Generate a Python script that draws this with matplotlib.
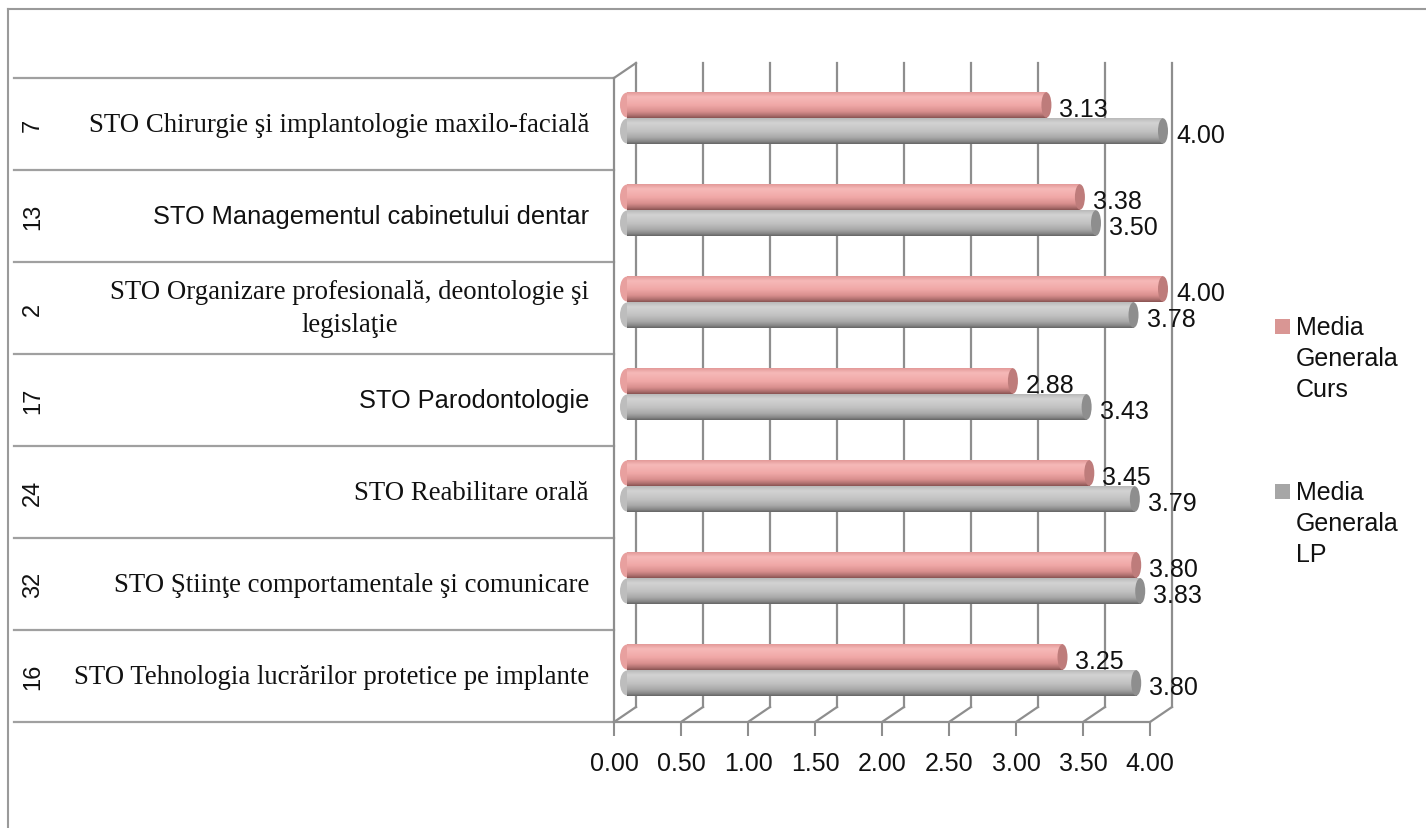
import numpy as np
import matplotlib
matplotlib.use("Agg")
import matplotlib.pyplot as plt
from matplotlib.patches import Ellipse, Rectangle
from matplotlib.colors import to_rgb

# ---------------- data ----------------
codes = ['7', '13', '2', '17', '24', '32', '16']
categories = ['STO Chirurgie şi implantologie maxilo-facială',
              'STO Managementul cabinetului dentar',
              'STO Organizare profesională, deontologie şi\nlegislaţie',
              'STO Parodontologie',
              'STO Reabilitare orală',
              'STO Ştiinţe comportamentale şi comunicare',
              'STO Tehnologia lucrărilor protetice pe implante']
sans_labels = [False, True, False, True, False, False, False]
media_curs = [3.13, 3.38, 4.00, 2.88, 3.45, 3.80, 3.25]
media_lp = [4.00, 3.50, 3.78, 3.43, 3.79, 3.83, 3.80]
series_names = ['Media\nGenerala\nCurs', 'Media\nGenerala\nLP']
xticks = [0.0, 0.5, 1.0, 1.5, 2.0, 2.5, 3.0, 3.5, 4.0]

W, H = 1426, 829
fig = plt.figure(figsize=(W / 100, H / 100), dpi=100)
fig.patch.set_facecolor('white')

SANS = ['Liberation Sans', 'DejaVu Sans']
SERIF = ['Liberation Serif', 'DejaVu Serif']

def fig_rect(x0, y0, x1, y1):
    return [x0 / W, 1 - y1 / H, (x1 - x0) / W, (y1 - y0) / H]

n = len(categories)
XMAX = 4.0
PXU = 134.0                 # pixels per unit
FX0, FY0, FY1 = 614, 79, 723
DX, DY = 22, -15            # depth offset of back wall

bg = fig.add_axes([0, 0, 1, 1], zorder=0)
bg.set_xlim(0, W); bg.set_ylim(H, 0); bg.axis('off')
bg.plot([8, 8], [10, H], color='#9A9A9A', lw=1.5)
bg.plot([8, W], [10, 10], color='#9A9A9A', lw=1.5)

axf = fig.add_axes(fig_rect(FX0, FY0, FX0 + XMAX * PXU, FY1), zorder=1)
axf.set_xlim(0, XMAX); axf.set_ylim(FY1, FY0)
axf.patch.set_alpha(0)
for s in axf.spines.values():
    s.set_visible(False)
axf.set_yticks([])
axf.set_xticks(xticks)
axf.set_xticklabels(['%.2f' % t for t in xticks], fontsize=18, family=SANS, color='#111111')
axf.tick_params(axis='x', length=10, width=1.5, color='#8E8E8E', pad=11)
gcol = '#8E8E8E'
ddx = DX / PXU
for t in xticks:
    axf.plot([t, t + ddx], [FY1, FY1 + DY], color=gcol, lw=1.6, clip_on=False)
    axf.plot([t + ddx, t + ddx], [FY1 + DY, FY0 + DY], color=gcol, lw=1.6, clip_on=False)
axf.plot([0, XMAX], [FY1, FY1], color=gcol, lw=1.6, clip_on=False)
axf.plot([0, 0], [FY0, FY1], color=gcol, lw=1.6, clip_on=False)
axf.plot([0, ddx], [FY0, FY0 + DY], color=gcol, lw=1.6, clip_on=False)

cat_h = (FY1 - FY0) / n
for k in range(n + 1):
    yy = FY0 + k * cat_h
    bg.plot([14, FX0], [yy, yy], color='#A0A0A0', lw=1.6)
for i in range(n):
    yc = FY0 + (i + 0.5) * cat_h
    bg.text(33, yc, codes[i], rotation=90, ha='center', va='center',
            fontsize=17, family=SANS, color='#111111')
    if sans_labels[i]:
        bg.text(589, yc, categories[i], ha='right', va='center',
                fontsize=18.3, family=SANS, color='#111111')
    else:
        bg.text(589, yc, categories[i], ha='right', va='center', multialignment='center',
                fontsize=19.3, family=SERIF, color='#111111', linespacing=1.45)

MX0 = FX0 + 13
MY0, MY1 = FY0 - 6, FY1 - 6
ax = fig.add_axes(fig_rect(MX0, MY0, MX0 + XMAX * PXU, MY1), zorder=2)
ax.patch.set_alpha(0)
ax.axis('off')

def grad(stops, npts=60):
    pos = [p for p, _ in stops]
    cols = np.array([to_rgb(c) for _, c in stops])
    t = np.linspace(0, 1, npts)
    arr = np.stack([np.interp(t, pos, cols[:, j]) for j in range(3)], axis=1)
    return arr[:, None, :]

pink_grad = grad([(0, '#E39A99'), (0.18, '#F6B9B8'), (0.5, '#F0A8A7'),
                  (0.75, '#D98F8E'), (0.9, '#B07170'), (1, '#8A5453')])
gray_grad = grad([(0, '#BABABA'), (0.18, '#D3D3D3'), (0.5, '#C2C2C2'),
                  (0.75, '#A9A9A9'), (0.9, '#898989'), (1, '#666666')])

bh = 26 / cat_h
offs = [-13 / cat_h, 13 / cat_h]
cap_w = 10 / PXU
series = [(media_curs, pink_grad, '#E8A09F', '#BE7C7B'),
          (media_lp, gray_grad, '#BDBDBD', '#8E8E8E')]
for s_idx, (vals, g, midc, capc) in enumerate(series):
    for i, v in enumerate(vals):
        yc = i + offs[s_idx]
        ax.add_patch(Ellipse((0, yc), cap_w * 1.4, bh * 0.96, facecolor=midc,
                             edgecolor='none', zorder=2, clip_on=False))
        ax.imshow(g, extent=[0, v, yc + bh / 2, yc - bh / 2], origin='upper',
                  aspect='auto', interpolation='bilinear', zorder=3)
        ax.add_patch(Ellipse((v, yc), cap_w, bh * 0.98, facecolor=capc,
                             edgecolor='none', zorder=4, clip_on=False))
        ax.annotate('%.2f' % v, (v, yc), xytext=(13, -4), textcoords='offset pixels',
                    ha='left', va='center', fontsize=18, family=SANS,
                    color='#111111', zorder=5, annotation_clip=False)
ax.set_xlim(0, XMAX)
ax.set_ylim(n - 0.5, -0.5)

leg_cols = ['#D99694', '#A6A6A6']
leg_y = [320, 485]
for c, y0, name in zip(leg_cols, leg_y, series_names):
    bg.add_patch(Rectangle((1275, y0), 15, 15, facecolor=c, edgecolor='none'))
    bg.text(1296, y0 - 4, name, ha='left', va='top', fontsize=18, family=SANS,
            color='#111111', linespacing=1.38)

fig.savefig('out.png', dpi=100, facecolor='white')
